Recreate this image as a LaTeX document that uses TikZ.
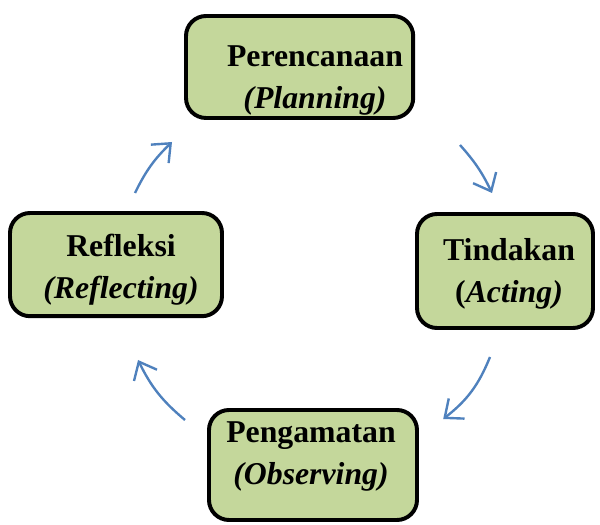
\documentclass[tikz,border=0pt]{standalone}
\usepackage{fontspec}
\setmainfont{Liberation Serif}
\usepackage{tikz}
\usetikzlibrary{arrows.meta, calc, positioning}
\definecolor{kotakhijau}{HTML}{C4D79B}
\definecolor{panahbiru}{HTML}{4F81BD}

\tikzset{
    kotak/.style={draw=black, line width=2.8pt, fill=kotakhijau, rounded corners=0.5cm, inner sep=0pt},
    tulisan/.style={align=center, font=\fontsize{22.6}{30}\selectfont\bfseries, inner sep=0pt},
    panah/.style={panahbiru, line width=1.7pt, -{Straight Barb[length=3.8mm, width=6.4mm, line width=1.7pt]}}
}

\begin{document}
\begin{tikzpicture}

            % Khung gambar
            \useasboundingbox (0,0) rectangle (15,13.125);

            % Kotak-kotak siklus
            \node[kotak, minimum width=5.68cm, minimum height=2.55cm] (plan) at (7.49,11.45) {}; % Perencanaan
            \node[kotak, minimum width=4.4cm, minimum height=2.85cm] (act) at (12.625,6.35) {}; % Tindakan
            \node[kotak, minimum width=5.2cm, minimum height=2.75cm] (obs) at (7.825,1.5) {}; % Pengamatan
            \node[kotak, minimum width=5.3cm, minimum height=2.58cm] (refl) at (2.9,6.51) {}; % Refleksi

            % Tulisan di dalam kotak
            \node[tulisan] (plantext) at (7.875,11.12) {Perencanaan\\\textit{(Planning)}};
            \node[tulisan] (acttext) at (12.725,6.275) {Tindakan\\(\textit{Acting)}};
            \node[tulisan] (obstext) at (7.775,1.71) {Pengamatan\\\textit{(Observing)}};
            \node[tulisan] (refltext) at (3.025,6.375) {Refleksi\\\textit{(Reflecting)}};

            % Ujung-ujung panah
            \coordinate (p1) at (11.5,9.5);
            \coordinate (p2) at (12.3,8.3);
            \coordinate (a1) at (12.25,4.2);
            \coordinate (a2) at (11.08,2.65);
            \coordinate (o1) at (4.625,2.625);
            \coordinate (o2) at (3.45,4.125);
            \coordinate (r1) at (3.375,8.3);
            \coordinate (r2) at (4.3,9.575);

            % Panah siklus
            \draw[panah] (p1) to[bend left=8] (p2);
            \draw[panah] (a1) to[bend left=15] (a2);
            \draw[panah] (o1) to[bend left=12] (o2);
            \draw[panah] (r1) to[bend left=10] (r2);

\end{tikzpicture}
\end{document}
